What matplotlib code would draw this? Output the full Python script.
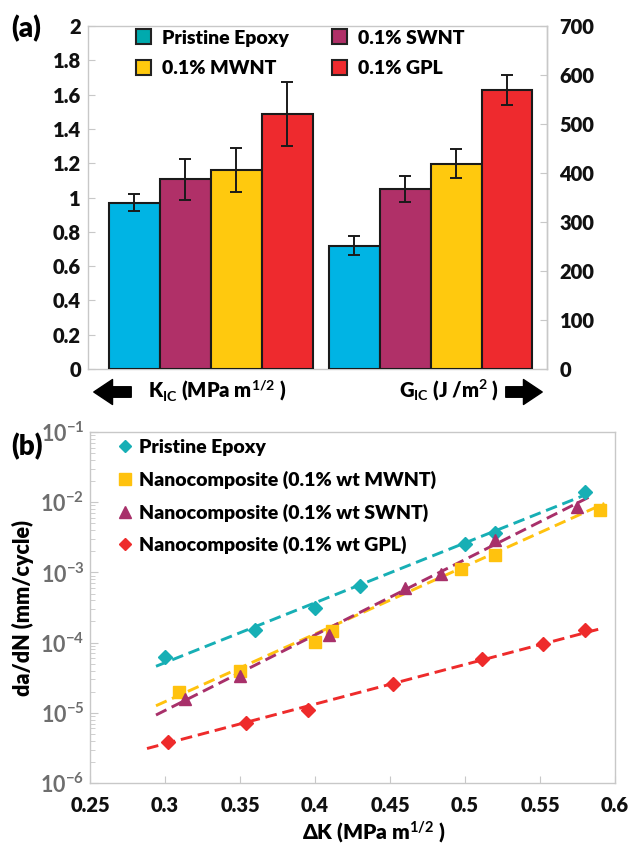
import matplotlib
matplotlib.use('Agg')
import matplotlib.pyplot as plt
import numpy as np
from matplotlib.patches import Patch, FancyArrowPatch
from matplotlib.lines import Line2D
from matplotlib.ticker import FixedLocator, FixedFormatter, LogLocator, NullFormatter

plt.rcParams['font.family'] = ['Lato', 'DejaVu Sans']
plt.rcParams['font.weight'] = 'heavy'
plt.rcParams['axes.labelweight'] = 'heavy'
plt.rcParams['mathtext.fontset'] = 'custom'
plt.rcParams['mathtext.bf'] = 'Lato:bold'
plt.rcParams['mathtext.rm'] = 'Lato:bold'
plt.rcParams['mathtext.it'] = 'Lato:bold'

# ---------------- data: panel (a) ----------------
bar_labels = ['Pristine Epoxy', '0.1% SWNT', '0.1% MWNT', '0.1% GPL']
kic = [0.97, 1.105, 1.16, 1.487]
kic_err = [0.05, 0.12, 0.13, 0.187]
gic = [252, 367, 419, 569]
gic_err = [20, 26, 30, 30]
bar_colors = ['#00B4E4', '#B03068', '#FFC90E', '#EE2A2E']
legend_colors = ['#00AAAE', '#B03068', '#FFC90E', '#EE2A2E']
left_ticks = [0, 0.2, 0.4, 0.6, 0.8, 1.0, 1.2, 1.4, 1.6, 1.8, 2.0]
right_ticks = [0, 100, 200, 300, 400, 500, 600, 700]

# ---------------- data: panel (b) ----------------
series_names = ['Pristine Epoxy', 'Nanocomposite (0.1% wt MWNT)',
                'Nanocomposite (0.1% wt SWNT)', 'Nanocomposite (0.1% wt GPL)']
pe_dk = [0.30, 0.36, 0.40, 0.43, 0.50, 0.52, 0.58]
pe_rate = [6.3e-5, 1.5e-4, 3.1e-4, 6.3e-4, 2.5e-3, 3.7e-3, 1.4e-2]
mw_dk = [0.309, 0.35, 0.40, 0.411, 0.497, 0.52, 0.59]
mw_rate = [1.95e-5, 3.9e-5, 1.02e-4, 1.48e-4, 1.12e-3, 1.75e-3, 7.8e-3]
sw_dk = [0.313, 0.35, 0.409, 0.46, 0.484, 0.52, 0.575]
sw_rate = [1.58e-5, 3.3e-5, 1.3e-4, 6.0e-4, 9.6e-4, 2.9e-3, 8.5e-3]
gp_dk = [0.302, 0.354, 0.395, 0.452, 0.511, 0.552, 0.58]
gp_rate = [3.9e-6, 7.1e-6, 1.1e-5, 2.6e-5, 5.8e-5, 9.7e-5, 1.5e-4]
# dashed fit lines (end points)
pe_fit_dk = [0.294, 0.584]; pe_fit_rate = [4.6e-5, 1.37e-2]
mw_fit_dk = [0.294, 0.593]; mw_fit_rate = [1.26e-5, 9.6e-3]
sw_fit_dk = [0.294, 0.584]; sw_fit_rate = [9.3e-6, 1.22e-2]
gp_fit_dk = [0.288, 0.589]; gp_fit_rate = [3.1e-6, 1.55e-4]
x_ticks_b = [0.25, 0.3, 0.35, 0.4, 0.45, 0.5, 0.55, 0.6]
x_ticklabels_b = ['0.25', '0.3', '0.35', '0.4', '0.45', '0.5', '0.55', '0.6']
y_ticks_b = [1e-6, 1e-5, 1e-4, 1e-3, 1e-2, 1e-1]
y_ticklabels_b = [r'$\mathbf{10^{-6}}$', r'$\mathbf{10^{-5}}$', r'$\mathbf{10^{-4}}$',
                  r'$\mathbf{10^{-3}}$', r'$\mathbf{10^{-2}}$', r'$\mathbf{10^{-1}}$']

W, H = 630, 848
def fx(px): return px / W
def fy(py): return 1 - py / H

fig = plt.figure(figsize=(6.3, 8.48), dpi=100)
SPINE = '#C8C8C8'

# ================= panel (a) =================
ax = fig.add_axes([fx(88), fy(369), (547 - 88) / W, (369 - 26) / H])
ax2 = ax.twinx()
x1 = np.arange(4) + 0.5
x2 = np.arange(4) + 4.315 + 0.5
ekw = dict(lw=1.4, capthick=1.4, ecolor='#1a1a1a')
ax.bar(x1, kic, width=1.0, color=bar_colors, edgecolor='#1a1a1a', linewidth=1.5,
       yerr=kic_err, capsize=4, error_kw=ekw, zorder=3)
ax2.bar(x2, gic, width=1.0, color=bar_colors, edgecolor='#1a1a1a', linewidth=1.5,
        yerr=gic_err, capsize=4, error_kw=ekw, zorder=3)
ax.set_xlim(-0.41, 8.6)
ax.set_ylim(0, 2)
ax2.set_ylim(0, 700)
ax.set_xticks([])
ax.set_yticks(left_ticks)
ax.set_yticklabels(['%g' % t for t in left_ticks])
ax2.set_yticks(right_ticks)
ax2.set_yticklabels(['%g' % t for t in right_ticks])
for a in (ax, ax2):
    for s in a.spines.values():
        s.set_color(SPINE)
        s.set_linewidth(1.0)
for s in ('left', 'top', 'bottom'):
    ax2.spines[s].set_visible(False)
ax.tick_params(axis='y', direction='in', length=5, color=SPINE, labelsize=14.5,
               pad=5, labelcolor='#111111')
ax2.tick_params(axis='y', direction='in', length=5, color=SPINE, labelsize=14.5,
                pad=9, labelcolor='#111111')

order = [0, 2, 1, 3]
handles = [Patch(facecolor=legend_colors[i], edgecolor='#222222', linewidth=1.5) for i in order]
labels = [bar_labels[i] for i in order]
ax2.legend(handles, labels, ncol=2, loc='upper left', bbox_to_anchor=(0.104, 0.99),
           frameon=False, fontsize=14, handlelength=0.8, handleheight=0.8,
           handletextpad=0.55, columnspacing=2.2, labelspacing=0.7,
           borderpad=0, borderaxespad=0)

fig.text(fx(148), fy(390), r'K$_{\mathbf{IC}}$ (MPa m$^{\mathbf{1/2}}$ )', ha='left',
         va='center', fontsize=14.5)
fig.text(fx(399), fy(390), r'G$_{\mathbf{IC}}$ (J /m$^{\mathbf{2}}$ )', ha='left',
         va='center', fontsize=14.5)
astyle = 'simple,head_length=0.75,head_width=1.0,tail_width=0.42'
fig.add_artist(FancyArrowPatch((fx(134), fy(392)), (fx(91), fy(392)),
               transform=fig.transFigure, arrowstyle=astyle, mutation_scale=18,
               color='black'))
fig.add_artist(FancyArrowPatch((fx(503), fy(392)), (fx(545), fy(392)),
               transform=fig.transFigure, arrowstyle=astyle, mutation_scale=18,
               color='black'))
fig.text(fx(11), fy(29), '(a)', fontsize=20, ha='left', va='center')

# ================= panel (b) =================
axb = fig.add_axes([fx(90), fy(783), (615 - 90) / W, (783 - 432) / H])
axb.set_yscale('log')
c_pe, c_mw, c_sw, c_gp = '#17AFB5', '#FFC20E', '#A8306A', '#EE2B2B'
dash = (4.0, 2.0)
lwf = 2.1
axb.plot(pe_fit_dk, pe_fit_rate, color=c_pe, lw=lwf, dashes=dash, zorder=2)
axb.plot(mw_fit_dk, mw_fit_rate, color=c_mw, lw=lwf, dashes=dash, zorder=2)
axb.plot(sw_fit_dk, sw_fit_rate, color=c_sw, lw=lwf, dashes=dash, zorder=2)
axb.plot(gp_fit_dk, gp_fit_rate, color=c_gp, lw=lwf, dashes=dash, zorder=2)
axb.plot(pe_dk, pe_rate, 'D', color=c_pe, ms=7, ls='none', zorder=3)
axb.plot(mw_dk, mw_rate, 's', color=c_mw, ms=8, ls='none', zorder=3)
axb.plot(sw_dk, sw_rate, '^', color=c_sw, ms=9, ls='none', zorder=3)
axb.plot(gp_dk, gp_rate, 'D', color=c_gp, ms=7, ls='none', zorder=3)
axb.set_xlim(0.25, 0.6)
axb.set_ylim(1e-6, 1e-1)
axb.xaxis.set_major_locator(FixedLocator(x_ticks_b))
axb.xaxis.set_major_formatter(FixedFormatter(x_ticklabels_b))
axb.yaxis.set_major_locator(FixedLocator(y_ticks_b))
axb.yaxis.set_major_formatter(FixedFormatter(y_ticklabels_b))
axb.yaxis.set_minor_locator(LogLocator(base=10, subs=np.arange(2, 10)))
axb.yaxis.set_minor_formatter(NullFormatter())
for s in axb.spines.values():
    s.set_color(SPINE)
    s.set_linewidth(1.0)
axb.tick_params(axis='x', direction='in', length=5, color=SPINE, labelsize=14.5,
                pad=9, labelcolor='#111111')
axb.tick_params(axis='y', which='major', direction='in', length=6, color=SPINE,
                labelsize=15.5, pad=4, labelcolor='#6E6E6E')
axb.tick_params(axis='y', which='minor', direction='in', length=3.5, color=SPINE)

hb = [Line2D([], [], marker='D', color=c_pe, ls='none', ms=6.5),
      Line2D([], [], marker='s', color=c_mw, ls='none', ms=8),
      Line2D([], [], marker='^', color=c_sw, ls='none', ms=9),
      Line2D([], [], marker='D', color=c_gp, ls='none', ms=6.5)]
axb.legend(hb, series_names, loc='upper left', bbox_to_anchor=(0.052, 0.98),
           frameon=False, fontsize=14, handlelength=0.8, handletextpad=0.3,
           labelspacing=0.75, borderpad=0, borderaxespad=0)

axb.set_ylabel('da/dN (mm/cycle)', fontsize=15.5, fontweight='heavy')
axb.yaxis.set_label_coords((34 - 90) / 525, 0.5)
fig.text(fx(374), fy(832), 'ΔK (MPa m$^{\\mathbf{1/2}}$ )', ha='center', va='center',
         fontsize=15)
fig.text(fx(11), fy(447), '(b)', fontsize=20, ha='left', va='center')

fig.savefig('out.png', dpi=100)
